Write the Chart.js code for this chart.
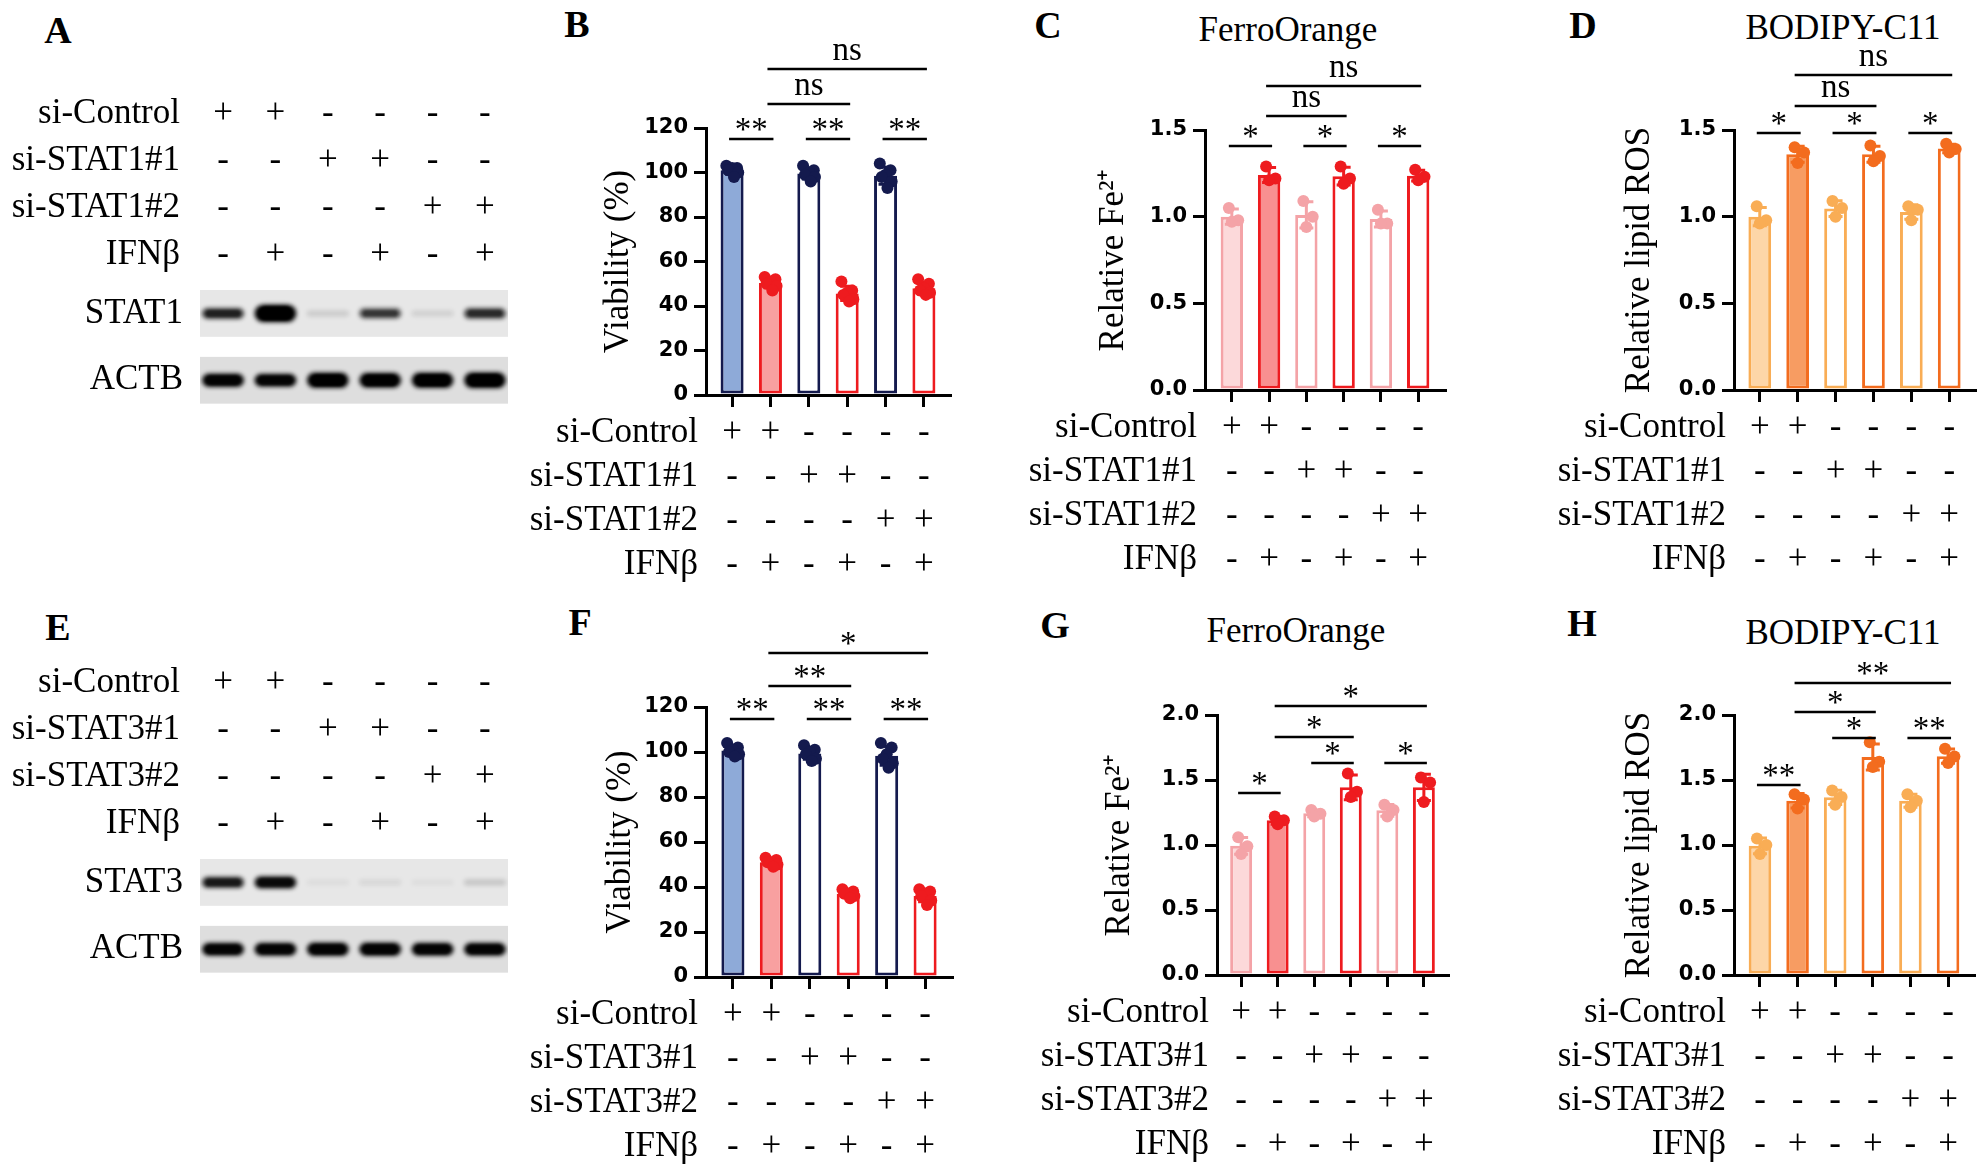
<!DOCTYPE html>
<html>
<head>
<meta charset="utf-8">
<script src="https://cdn.jsdelivr.net/npm/chart.js@4.4.1/dist/chart.umd.min.js"></script>
<style>
  html, body { margin: 0; padding: 0; background: #fff; }
  body { position: relative; width: 1985px; height: 1170px; overflow: hidden;
         font-family: "Liberation Serif", "Times New Roman", serif; color: #000; }
  canvas { position: absolute; }
  .letter { position: absolute; font-weight: bold; font-size: 38px; line-height: 1; transform: translate(-50%, -50%); }
  .title { position: absolute; font-size: 35px; line-height: 1; transform: translate(-50%, -50%); white-space: nowrap; }
</style>
</head>
<body>
<div class="letter" style="left:58px;top:30px">A</div>
<div class="letter" style="left:577px;top:24px">B</div>
<div class="letter" style="left:1048px;top:25px">C</div>
<div class="letter" style="left:1583px;top:25px">D</div>
<div class="letter" style="left:58px;top:627px">E</div>
<div class="letter" style="left:580px;top:622px">F</div>
<div class="letter" style="left:1055px;top:625px">G</div>
<div class="letter" style="left:1582px;top:623px">H</div>
<div class="title" style="left:1288px;top:29px">FerroOrange</div>
<div class="title" style="left:1843px;top:27px">BODIPY-C11</div>
<div class="title" style="left:1296px;top:630px">FerroOrange</div>
<div class="title" style="left:1843px;top:632px">BODIPY-C11</div>

<script>
// treatment table (same for every panel)
const stat1Rows = ['si-Control', 'si-STAT1#1', 'si-STAT1#2', 'IFNβ'];
const stat3Rows = ['si-Control', 'si-STAT3#1', 'si-STAT3#2', 'IFNβ'];
const treatment = [
  ['+', '+', '-', '-', '-', '-'],
  ['-', '-', '+', '+', '-', '-'],
  ['-', '-', '-', '-', '+', '+'],
  ['-', '+', '-', '+', '-', '+']
];

// western blots: relative band strength per lane
const blotProteinsA = ['STAT1', 'ACTB'];
const stat1Band = [0.75, 1.6, 0.12, 0.65, 0.1, 0.7];
const actbBandA = [1.05, 1.0, 1.3, 1.25, 1.3, 1.4];
const blotProteinsE = ['STAT3', 'ACTB'];
const stat3Band = [0.8, 0.9, 0.05, 0.07, 0.04, 0.14];
const actbBandE = [1.0, 1.0, 1.05, 1.05, 1.0, 1.0];

// replicate values per bar
const viabilitySTAT1 = [
  [103, 102, 102, 101, 100, 98],
  [53, 52, 51, 50, 49, 47],
  [103, 101, 100, 99, 98, 96],
  [51, 47, 46, 45, 43, 42],
  [104, 101, 99, 98, 96, 93],
  [52, 50, 48, 47, 46, 45]
];
const ironSTAT1 = [
  [1.05, 0.98, 0.97],
  [1.29, 1.22, 1.21],
  [1.09, 1.0, 0.94],
  [1.29, 1.22, 1.19],
  [1.04, 0.96, 0.96],
  [1.27, 1.23, 1.21]
];
const lipidSTAT1 = [
  [1.06, 0.98, 0.96],
  [1.40, 1.37, 1.31],
  [1.09, 1.05, 1.00],
  [1.41, 1.35, 1.32],
  [1.06, 1.04, 0.98],
  [1.42, 1.39, 1.37]
];
const viabilitySTAT3 = [
  [104, 102, 101, 100, 99, 98],
  [53, 52, 51, 51, 50, 49],
  [103, 101, 100, 99, 97, 96],
  [39, 38, 37, 37, 36, 35],
  [104, 102, 99, 97, 95, 93],
  [39, 38, 37, 36, 34, 32]
];
const ironSTAT3 = [
  [1.06, 0.99, 0.93],
  [1.22, 1.19, 1.16],
  [1.27, 1.24, 1.22],
  [1.55, 1.41, 1.37],
  [1.31, 1.27, 1.22],
  [1.52, 1.48, 1.33]
];
const lipidSTAT3 = [
  [1.05, 1.0, 0.93],
  [1.39, 1.35, 1.28],
  [1.42, 1.37, 1.31],
  [1.79, 1.64, 1.60],
  [1.39, 1.34, 1.29],
  [1.74, 1.68, 1.63]
];

// significance brackets: bar pairs, marks and bracket heights (axis units)
const sigPairs = [[0, 1], [2, 3], [4, 5], [1, 3], [1, 5]];
const sigTextB = ['**', '**', '**', 'ns', 'ns'];
const sigLevelB = [115, 115, 115, 131, 146.5];
const sigTextC = ['*', '*', '*', 'ns', 'ns'];
const sigLevelC = [1.405, 1.405, 1.405, 1.578, 1.751];
const sigTextD = ['*', '*', '*', 'ns', 'ns'];
const sigLevelD = [1.48, 1.48, 1.48, 1.64, 1.82];
const sigTextF = ['**', '**', '**', '**', '*'];
const sigLevelF = [114.7, 114.7, 114.7, 129.3, 144];
const sigTextG = ['*', '*', '*', '*', '*'];
const sigLevelG = [1.40, 1.63, 1.63, 1.83, 2.07];
const sigTextH = ['**', '*', '**', '*', '**'];
const sigLevelH = [1.46, 1.82, 1.82, 2.02, 2.25];

const SERIF = '"Liberation Serif", "Times New Roman", serif';
Chart.defaults.font.family = SERIF;
Chart.defaults.color = '#000';

// colours
const navy = '#141a4e', red = '#ee1b1f';
const pinkL = '#f4a3a7', orL = '#f9ad55', orD = '#f36c1e';
const viaLines = [navy, red, navy, red, navy, red];
const viaFills = ['#8eaad8', '#f8a0a0', '#fff', '#fff', '#fff', '#fff'];
const feLines = [pinkL, red, pinkL, red, pinkL, red];
const feFills = ['#fcd9da', '#f89090', '#fff', '#fff', '#fff', '#fff'];
const rosLines = [orL, orD, orL, orD, orL, orD];
const rosFills = ['#fdd6a8', '#f79c62', '#fff', '#fff', '#fff', '#fff'];

function addCanvas(left, top, w, h) {
  const cv = document.createElement('canvas');
  cv.width = w; cv.height = h;
  cv.style.left = left + 'px'; cv.style.top = top + 'px';
  cv.style.width = w + 'px'; cv.style.height = h + 'px';
  document.body.appendChild(cv);
  return cv;
}

const axisLine = { display: true, drawOnChartArea: false, drawTicks: true, tickLength: 12, lineWidth: 3, color: '#000', offset: false };

function barPanel(p) {
  const cv = addCanvas(p.left, p.top, p.w, p.h);
  const means = p.points.map(a => a.reduce((s, v) => s + v, 0) / a.length);
  const sds = p.points.map((a, i) => Math.sqrt(a.reduce((s, v) => s + (v - means[i]) ** 2, 0) / (a.length - 1)));
  const jitter = p.points[0].length > 3 ? [-0.15, 0.13, 0.0, -0.1, 0.16, 0.05] : [-0.08, 0.17, 0.0];
  const dots = [], dotColors = [];
  p.points.forEach((a, i) => a.forEach((v, k) => {
    dots.push({ x: i + jitter[k], y: v });
    dotColors.push(p.lines[i]);
  }));
  const yW = 120;
  const rowH = 44;

  const extras = {
    id: 'extras',
    afterDatasetDraw(chart, args) {
      if (args.index !== 0) return;
      const { ctx, scales: { x: xs, y: ys } } = chart;
      ctx.save();
      ctx.lineWidth = 3;
      means.forEach((m, i) => {
        const x = xs.getPixelForValue(i);
        const yt = ys.getPixelForValue(m + sds[i]);
        const yb = ys.getPixelForValue(m - sds[i]);
        ctx.strokeStyle = p.lines[i];
        ctx.beginPath();
        ctx.moveTo(x, yb); ctx.lineTo(x, yt);
        ctx.moveTo(x - 7, yt); ctx.lineTo(x + 7, yt);
        ctx.moveTo(x - 7, yb); ctx.lineTo(x + 7, yb);
        ctx.stroke();
      });
      ctx.restore();
    },
    afterDraw(chart) {
      const { ctx, chartArea, scales: { x: xs, y: ys } } = chart;
      ctx.save();
      ctx.fillStyle = '#000';
      ctx.font = '35px ' + SERIF;
      ctx.textAlign = 'right';
      ctx.textBaseline = 'middle';
      p.rows.forEach((name, i) => {
        ctx.fillText(name, chartArea.left - 8, xs.top + 12 + 4 + rowH / 2 + i * rowH);
      });
      // brackets
      ctx.strokeStyle = '#000';
      ctx.lineWidth = 2.5;
      ctx.font = '33px ' + SERIF;
      ctx.textAlign = 'center';
      ctx.textBaseline = 'alphabetic';
      p.sigLevel.forEach((lv, k) => {
        const [a, b] = sigPairs[k];
        const x1 = xs.getPixelForValue(a) - 3, x2 = xs.getPixelForValue(b) + 3;
        const y = Math.round(ys.getPixelForValue(lv));
        ctx.beginPath(); ctx.moveTo(x1, y); ctx.lineTo(x2, y); ctx.stroke();
        const t = p.sigText[k];
        ctx.fillText(t, (x1 + x2) / 2, t === 'ns' ? y - 9 : y + 1);
      });
      ctx.restore();
    }
  };

  new Chart(cv, {
    type: 'bar',
    data: {
      datasets: [
        { type: 'bar', data: means.map((m, i) => ({ x: i, y: m })),
          backgroundColor: p.fills, borderColor: p.lines, borderWidth: 3, borderSkipped: false,
          barPercentage: 1, categoryPercentage: 0.6, order: 2 },
        { type: 'scatter', data: dots, pointBackgroundColor: dotColors, pointBorderColor: dotColors,
          pointRadius: 6, pointBorderWidth: 0, order: 1 }
      ]
    },
    options: {
      responsive: false,
      animation: false,
      events: [],
      layout: { padding: { left: p.axisX - p.left - yW, right: p.left + p.w - p.rightX, top: p.topY - p.top, bottom: 0 } },
      plugins: { legend: { display: false }, tooltip: { enabled: false } },
      scales: {
        x: {
          type: 'linear', min: -p.pad, max: means.length - 1 + p.pad, offset: false, bounds: 'data',
          afterBuildTicks: s => { s.ticks = means.map((_, i) => ({ value: i })); },
          afterFit: s => { s.height = p.top + p.h - p.bottomY; },
          grid: axisLine,
          border: { display: true, width: 3, color: '#000' },
          ticks: { autoSkip: false, maxRotation: 0, minRotation: 0, padding: 4, color: '#000',
                   font: { family: SERIF, size: 35, lineHeight: rowH / 35 },
                   callback: v => treatment.map(r => r[v]) }
        },
        y: {
          type: 'linear', min: 0, max: p.yMax,
          afterFit: s => { s.width = yW; },
          grid: axisLine,
          border: { display: true, width: 3, color: '#000' },
          ticks: { stepSize: p.yStep, padding: 6, color: '#000',
                   font: { family: '"DejaVu Sans", sans-serif', size: 21, weight: 'bold' },
                   callback: v => v.toFixed(p.dec) },
          title: { display: true, text: p.yTitle, color: '#000', font: { family: SERIF, size: 35 },
                   padding: { top: p.titleX - (p.axisX - yW) - 21, bottom: 0 } }
        }
      }
    },
    plugins: [extras]
  });
}

function blotPanel(p) {
  const W = 520, H = 360, topH = 230;
  const cv = addCanvas(0, p.top, W, H);
  const nRows = p.bands.length;
  const rowH = 47;
  const blot = {
    id: 'blot',
    beforeDatasetsDraw(chart) {
      const { ctx, chartArea: a, scales: { x: xs, y: ys } } = chart;
      ctx.save();
      p.bands.forEach((row, r) => {
        const yv = nRows - 1 - r;
        const yTop = ys.getPixelForValue(yv + 0.35), yBot = ys.getPixelForValue(yv - 0.35);
        const yc = ys.getPixelForValue(yv);
        ctx.fillStyle = r === 0 ? '#e7e7e7' : '#dedede';
        ctx.fillRect(a.left, yTop, a.right - a.left, yBot - yTop);
        ctx.save();
        ctx.beginPath(); ctx.rect(a.left, yTop, a.right - a.left, yBot - yTop); ctx.clip();
        row.forEach((v, i) => {
          const xc = xs.getPixelForValue(i);
          const h = 5 + 8 * v, w = 42;
          ctx.filter = 'blur(2px)';
          ctx.fillStyle = 'rgba(10,10,10,' + Math.min(1, v * 1.05) + ')';
          ctx.beginPath();
          ctx.roundRect(xc - w / 2, yc - h / 2, w, h, h / 2);
          ctx.fill();
          if (v > 0.5) {
            ctx.filter = 'blur(1px)';
            ctx.fillStyle = 'rgba(0,0,0,' + Math.min(1, v - 0.3) + ')';
            ctx.beginPath();
            ctx.roundRect(xc - w / 2 + 4, yc - h / 2 + 2, w - 8, h - 4, (h - 4) / 2);
            ctx.fill();
          }
        });
        ctx.restore();
      });
      ctx.restore();
    },
    afterDraw(chart) {
      const { ctx, scales: { x: xs, y: ys } } = chart;
      ctx.save();
      ctx.fillStyle = '#000';
      ctx.font = '35px ' + SERIF;
      ctx.textAlign = 'right';
      ctx.textBaseline = 'middle';
      p.rows.forEach((name, i) => {
        ctx.fillText(name, 180, xs.bottom - 12 - rowH / 2 - (p.rows.length - 1 - i) * rowH);
      });
      p.proteins.forEach((name, r) => {
        ctx.fillText(name, 183, ys.getPixelForValue(nRows - 1 - r));
      });
      ctx.restore();
    }
  };
  new Chart(cv, {
    type: 'scatter',
    data: {
      datasets: p.bands.map((row, r) => ({
        data: row.map((v, i) => ({ x: i, y: nRows - 1 - r })), pointRadius: 0
      }))
    },
    options: {
      responsive: false,
      animation: false,
      events: [],
      layout: { padding: { left: 200, right: 12, top: 0, bottom: 17 } },
      plugins: { legend: { display: false }, tooltip: { enabled: false } },
      scales: {
        x: {
          type: 'linear', position: 'top', min: -0.44, max: p.bands[0].length - 1 + 0.44, bounds: 'data',
          afterBuildTicks: s => { s.ticks = p.bands[0].map((_, i) => ({ value: i })); },
          afterFit: s => { s.height = topH; },
          grid: { display: false, drawTicks: false },
          border: { display: false },
          ticks: { autoSkip: false, maxRotation: 0, minRotation: 0, padding: 12, color: '#000',
                   font: { family: SERIF, size: 35, lineHeight: rowH / 35 },
                   callback: v => treatment.map(r => r[v]) }
        },
        y: { type: 'linear', display: false, min: -0.34, max: 1.35 }
      }
    },
    plugins: [blot]
  });
}

// A and E: blots
blotPanel({ top: 60, rows: stat1Rows, proteins: blotProteinsA, bands: [stat1Band, actbBandA] });
blotPanel({ top: 629, rows: stat3Rows, proteins: blotProteinsE, bands: [stat3Band, actbBandE] });

// B, C, D
barPanel({ left: 505, top: 30, w: 460, h: 560, axisX: 706, rightX: 950, pad: 0.68, topY: 128, bottomY: 395,
  yMax: 120, yStep: 20, dec: 0, yTitle: 'Viability (%)', titleX: 619, rows: stat1Rows,
  points: viabilitySTAT1, lines: viaLines, fills: viaFills, sigText: sigTextB, sigLevel: sigLevelB });
barPanel({ left: 1000, top: 30, w: 460, h: 560, axisX: 1205, rightX: 1445, pad: 0.72, topY: 130, bottomY: 390,
  yMax: 1.5, yStep: 0.5, dec: 1, yTitle: 'Relative Fe²⁺', titleX: 1114, rows: stat1Rows,
  points: ironSTAT1, lines: feLines, fills: feFills, sigText: sigTextC, sigLevel: sigLevelC });
barPanel({ left: 1530, top: 30, w: 455, h: 560, axisX: 1734, rightX: 1975, pad: 0.68, topY: 130, bottomY: 390,
  yMax: 1.5, yStep: 0.5, dec: 1, yTitle: 'Relative lipid ROS', titleX: 1640, rows: stat1Rows,
  points: lipidSTAT1, lines: rosLines, fills: rosFills, sigText: sigTextD, sigLevel: sigLevelD });

// F, G, H
barPanel({ left: 505, top: 600, w: 460, h: 570, axisX: 706, rightX: 952, pad: 0.7, topY: 707, bottomY: 977,
  yMax: 120, yStep: 20, dec: 0, yTitle: 'Viability (%)', titleX: 621, rows: stat3Rows,
  points: viabilitySTAT3, lines: viaLines, fills: viaFills, sigText: sigTextF, sigLevel: sigLevelF });
barPanel({ left: 1000, top: 600, w: 460, h: 570, axisX: 1217, rightX: 1448, pad: 0.66, topY: 715, bottomY: 975,
  yMax: 2.0, yStep: 0.5, dec: 1, yTitle: 'Relative Fe²⁺', titleX: 1120, rows: stat3Rows,
  points: ironSTAT3, lines: feLines, fills: feFills, sigText: sigTextG, sigLevel: sigLevelG });
barPanel({ left: 1530, top: 600, w: 455, h: 570, axisX: 1734, rightX: 1974, pad: 0.69, topY: 715, bottomY: 975,
  yMax: 2.0, yStep: 0.5, dec: 1, yTitle: 'Relative lipid ROS', titleX: 1640, rows: stat3Rows,
  points: lipidSTAT3, lines: rosLines, fills: rosFills, sigText: sigTextH, sigLevel: sigLevelH });
</script>
</body>
</html>
